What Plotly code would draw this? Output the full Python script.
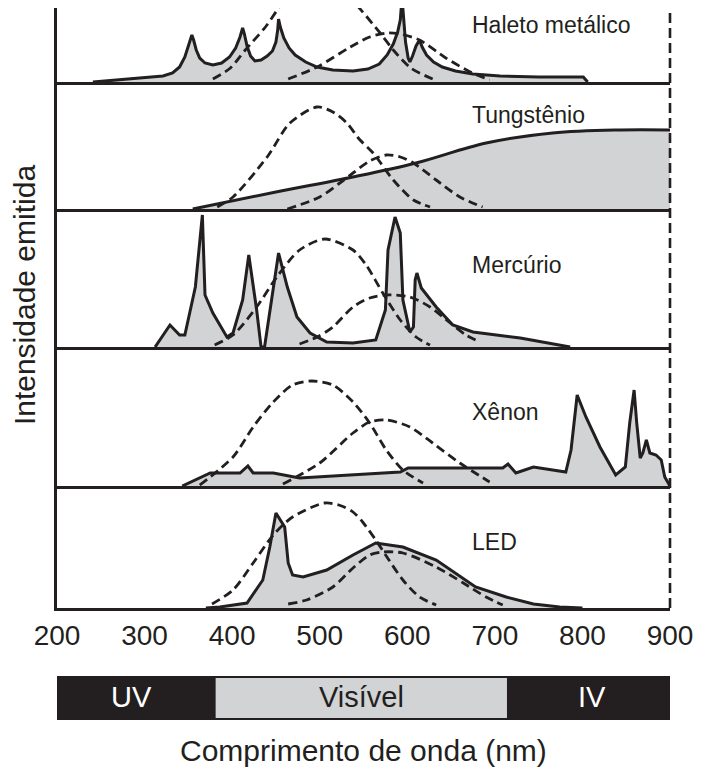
import plotly.graph_objects as go
from plotly.subplots import make_subplots

INK = "#231f20"
GREY = "#d1d3d4"
FONT = "Liberation Sans, Arial, sans-serif"

# lamp panels, top to bottom
lamps = ["Haleto metálico", "Tungstênio", "Mercúrio", "Xênon", "LED"]

# emission spectra (nm, relative intensity)
halide_nm = [241, 280, 321, 332, 340, 346, 350, 353, 354, 356, 359, 363, 369, 378, 388,
             397, 404, 409, 412, 414, 417, 421, 426, 433, 440, 446, 450, 452, 453, 455,
             459, 465, 472, 484, 497, 515, 538, 555, 568, 577, 584, 589, 592, 594, 596,
             598, 601, 603, 606, 610, 614, 617, 622, 630, 640, 655, 675, 706, 750, 801, 806]
halide_int = [0, 3, 6, 9, 15, 25, 35, 44, 47, 42, 32, 24, 19, 17, 19,
              25, 34, 45, 54, 48, 36, 26, 21, 22, 26, 31, 40, 52, 63, 55,
              44, 34, 27, 20, 15, 12, 11, 13, 18, 27, 38, 50, 62, 84, 62,
              40, 24, 20, 26, 36, 42, 35, 27, 20, 15, 11, 8, 6, 5, 5, 0]

tungsten_nm = [355, 450, 538, 610, 690, 766, 843, 900]
tungsten_int = [0, 17, 32, 46, 66, 76, 79, 79]

mercury_nm = [312, 329, 340, 346, 358, 366, 369, 378, 394, 401, 412, 419, 428, 433, 437,
              445, 453, 463, 474, 489, 508, 538, 564, 575, 578, 586, 592, 595, 603, 607,
              609, 611, 616, 633, 652, 675, 729, 786]
mercury_int = [0, 22, 12, 12, 60, 132, 52, 34, 10, 14, 47, 92, 37, 0, 0,
               47, 94, 60, 30, 14, 5, 4, 7, 37, 97, 130, 114, 47, 15, 20,
               67, 74, 59, 40, 22, 15, 9, 0]

xenon_nm = [343, 375, 409, 418, 424, 447, 477, 538, 592, 601, 709, 715, 724, 744, 766,
            781, 787, 792, 794, 804, 820, 838, 849, 854, 859, 862, 866, 869, 873, 877,
            884, 890, 894, 900]
xenon_int = [0, 13, 13, 20, 13, 13, 8, 11, 14, 18, 18, 22, 13, 19, 16,
             14, 36, 79, 91, 69, 39, 11, 19, 63, 96, 63, 28, 33, 46, 33,
             31, 26, 9, 0]

led_nm = [370, 386, 417, 435, 443, 450, 460, 464, 469, 481, 508, 538, 564, 595, 633,
          664, 678, 713, 744, 774, 800]
led_int = [0, 1, 5, 28, 61, 95, 81, 45, 33, 31, 38, 53, 65, 61, 48,
           30, 21, 11, 4, 1, 0]

# dashed sensitivity curves as drawn in each panel (short and long wavelength)
halide_short_nm = [378, 398, 415, 438, 460, 480, 498, 518, 537, 569, 584, 604, 629]
halide_short = [3, 14, 32, 55, 82, 97, 102, 97, 82, 49, 32, 14, 3]
halide_long_nm = [464, 497, 535, 557, 577, 592, 614, 644, 672, 694]
halide_long = [3, 15, 35, 45, 49, 48, 42, 24, 10, 2]

tungsten_short_nm = [383, 401, 440, 466, 497, 515, 531, 545, 561, 584, 607, 626]
tungsten_short = [2, 12, 52, 86, 102, 97, 86, 70, 56, 29, 9, 2]
tungsten_long_nm = [463, 500, 523, 538, 557, 576, 592, 607, 633, 660, 686]
tungsten_long = [0, 12, 26, 36, 48, 54, 52, 46, 29, 12, 2]

mercury_short_nm = [380, 401, 428, 451, 477, 506, 538, 553, 572, 592, 610, 626]
mercury_short = [2, 12, 40, 70, 97, 108, 97, 82, 54, 27, 10, 2]
mercury_long_nm = [477, 497, 515, 538, 557, 576, 603, 626, 649, 667, 683]
mercury_long = [3, 10, 20, 40, 49, 52, 50, 40, 24, 12, 5]

xenon_short_nm = [363, 401, 424, 447, 469, 491, 515, 538, 557, 576, 595, 618]
xenon_short = [1, 29, 59, 84, 101, 105, 101, 84, 63, 36, 16, 3]
xenon_long_nm = [458, 500, 538, 557, 576, 603, 629, 660, 694]
xenon_long = [2, 23, 53, 64, 66, 59, 43, 23, 4]

led_short_nm = [377, 401, 424, 447, 469, 506, 525, 538, 549, 564, 576, 595, 614, 633]
led_short = [4, 18, 45, 73, 91, 105, 102, 96, 86, 68, 52, 28, 11, 3]
led_long_nm = [464, 485, 515, 538, 557, 572, 595, 633, 664, 690, 709]
led_long = [4, 8, 21, 40, 53, 56, 55, 41, 25, 11, 3]

spectra = [
    (halide_nm, halide_int, "linear"),
    (tungsten_nm, tungsten_int, "spline"),
    (mercury_nm, mercury_int, "linear"),
    (xenon_nm, xenon_int, "linear"),
    (led_nm, led_int, "linear"),
]
dashes = [
    [(halide_short_nm, halide_short), (halide_long_nm, halide_long)],
    [(tungsten_short_nm, tungsten_short), (tungsten_long_nm, tungsten_long)],
    [(mercury_short_nm, mercury_short), (mercury_long_nm, mercury_long)],
    [(xenon_short_nm, xenon_short), (xenon_long_nm, xenon_long)],
    [(led_short_nm, led_short), (led_long_nm, led_long)],
]

# spectral bands under the axis
bands = ["UV", "Visível", "IV"]
band_edges = [190, 380, 715, 907]
ticks = [200, 300, 400, 500, 600, 700, 800, 900]

# panel heights in px (top one is cut off) and label heights inside each panel
# (the page body adds an 8px margin, so the figure is laid out 8px smaller)
row_px = [74, 127, 138, 139, 122]
label_y = [57, 94, 82, 74, 66]

fig = make_subplots(rows=5, cols=1, shared_xaxes=True, vertical_spacing=0,
                    row_heights=row_px)

for i, (nm, val, shape) in enumerate(spectra):
    row = i + 1
    fig.add_trace(
        go.Scatter(x=nm, y=val, mode="lines", fill="tozeroy", fillcolor=GREY,
                   line=dict(color=INK, width=3, shape=shape)),
        row=row, col=1,
    )
    for dnm, dval in dashes[i]:
        fig.add_trace(
            go.Scatter(x=dnm, y=dval, mode="lines",
                       line=dict(color=INK, width=2.8, dash="9px,5px",
                                 shape="spline", smoothing=0.8)),
            row=row, col=1,
        )
    fig.add_annotation(x=672, y=label_y[i], text=lamps[i], showarrow=False,
                       xanchor="left", yanchor="middle",
                       font=dict(size=23, color=INK, family=FONT),
                       row=row, col=1)
    fig.update_yaxes(range=[0, row_px[i]], row=row, col=1)

fig.update_xaxes(range=[200, 900], showgrid=False, zeroline=False,
                 showline=True, linecolor=INK, linewidth=3, ticks="",
                 tickvals=ticks, tickfont=dict(size=28, color=INK, family=FONT))
fig.update_yaxes(showgrid=False, zeroline=False, showticklabels=False,
                 showline=True, linecolor=INK, linewidth=3, ticks="")

# right edge dashed line
fig.add_shape(type="line", xref="paper", yref="paper", x0=1, x1=1, y0=0, y1=1,
              line=dict(color=INK, width=2.6, dash="10px,5px"))

# UV / visible / IR bar
for j, name in enumerate(bands):
    dark = name != "Visível"
    fig.add_shape(type="rect", xref="x5", yref="paper",
                  x0=band_edges[j], x1=band_edges[j + 1], y0=-0.185, y1=-0.115,
                  fillcolor=INK if dark else GREY,
                  line=dict(color=INK, width=2))
    fig.add_annotation(x=(band_edges[j] + band_edges[j + 1]) / 2, xref="x5",
                       y=-0.148, yref="paper", text=name, showarrow=False,
                       xanchor="center", yanchor="middle",
                       font=dict(size=29, color="white" if dark else INK, family=FONT))

fig.add_annotation(x=0.5, y=-0.2383, xref="paper", yref="paper",
                   text="Comprimento de onda (nm)", showarrow=False,
                   xanchor="center", yanchor="middle",
                   font=dict(size=30, color=INK, family=FONT))
fig.add_annotation(x=-0.052, y=0.5217, xref="paper", yref="paper",
                   text="Intensidade emitida", textangle=-90, showarrow=False,
                   xanchor="center", yanchor="middle", borderpad=0,
                   font=dict(size=30, color=INK, family=FONT))

fig.update_layout(
    width=690, height=759,
    margin=dict(l=49, r=28, t=0, b=159),
    plot_bgcolor="white", paper_bgcolor="white",
    showlegend=False,
    font=dict(family=FONT, color=INK),
)

fig.write_html("out.html")
